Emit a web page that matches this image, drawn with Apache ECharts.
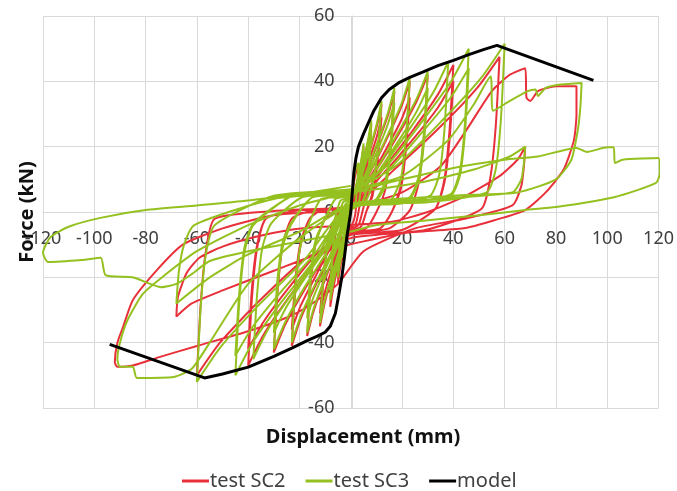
<!DOCTYPE html>
<html>
<head>
<meta charset="utf-8">
<script src="https://cdn.jsdelivr.net/npm/echarts@6/dist/echarts.min.js"></script>
<style>
  html, body { margin: 0; padding: 0; background: #fff; }
  #main { width: 677px; height: 491px; }
</style>
</head>
<body>
<div id="main"></div>
<script>
// axis ticks
const xTicks = [-120, -100, -80, -60, -40, -20, 0, 20, 40, 60, 80, 100, 120];
const yTicks = [-60, -40, -20, 0, 20, 40, 60];

// test SC2 (red) - displacement (mm), force (kN), in recorded order
const sc2 = [
  [0,0],[1,8],[2,12],[3,14],[2.6,8],[2.2,3],[1.8,-0.5],[1,-3],[0,-4.5],[-0.9,-6.5],[-1.8,-9],[-2.55,-12],[-3,-15],[-2.6,-9],[-2.2,-4],[-1.8,-1],[-1,0.5],[0,1],
  [1.5,5.6],[3,11],[4.25,16],[5,20],[4.5,11],[3.8,4],[3,0],[2,-3.5],[0,-5],[-1.5,-8],[-3,-12.5],[-4.25,-17.6],[-5,-22],[-4.5,-13],[-3.8,-6],[-3,-1.5],[-2,0.5],[0,1],
  [2.4,7.6],[4.8,14.9],[6.8,21.6],[8,27],[7.2,15],[6,5],[4.5,0],[3,-4],[0,-5.5],[-2.4,-9],[-4.8,-16],[-6.8,-23.2],[-8,-29],[-7.2,-17],[-6,-7],[-4.5,-2],[-3,0.5],[0,1.5],
  [3.6,9.2],[7.2,18.2],[10.2,26.4],[12,33],[10.5,18],[8.5,6],[6,0],[4,-4.5],[0,-6],[-3.6,-10.5],[-7.2,-19.3],[-10.2,-28],[-12,-35],[-10.5,-20],[-8.5,-8],[-6,-2],[-4,0.5],[0,1.5],
  [3.6,8.1],[7.2,16],[10.2,23.2],[12,29],[10.5,16],[8.5,5],[6,0],[4,-4.5],[0,-6],[-3.6,-9.3],[-7.2,-17],[-10.2,-24.8],[-12,-31],[-10.5,-18],[-8.5,-7],[-6,-2],[-4,0.5],[0,1.5],
  [5.1,10.4],[10.2,20.4],[14.5,29.6],[17,37],[15.5,20],[13.5,7],[10,0],[6,-5],[0,-6.5],[-5.1,-11.5],[-10.2,-21],[-14.5,-30.4],[-17,-38],[-15.5,-21],[-13.5,-9],[-10,-2],[-6,0.5],[0,1.5],
  [6.9,11.2],[13.8,22],[19.6,32],[23,40],[21.5,22],[19.5,8],[16,0],[11.5,-5],[0,-6.5],[-6.9,-12],[-13.8,-22.6],[-19.6,-32.8],[-23,-41],[-21.5,-23],[-19.5,-10],[-16,-2],[-11.5,0.5],[0,1.5],
  [6.9,9.8],[13.8,19.3],[19.6,28],[23,35],[21.5,19],[19.5,7],[16,0],[11.5,-5],[0,-6.5],[-6.9,-10],[-13.8,-19.8],[-19.6,-28.8],[-23,-36],[-21.5,-20],[-19.5,-9],[-16,-2],[-11.5,0.5],[0,1.5],
  [9,11.8],[18,23],[25.5,33.6],[30,42],[28.5,23],[26.5,9],[23,0.5],[15,-5],[0,-7],[-9,-12.5],[-18,-23.7],[-25.5,-34.4],[-30,-43],[-28.5,-24],[-26.5,-10],[-23,-2],[-15,0.5],[0,1.5],
  [12,12.6],[24,24.8],[34,36],[40,45],[38.5,25],[36.5,10],[33,1],[20,-5.5],[0,-7],[-12,-13.5],[-24,-26],[-34,-37.6],[-40,-47],[-38.5,-26],[-36.5,-11],[-33,-2],[-20,0.5],[0,1.5],
  [12,11.2],[24,22],[34,32],[40,40],[38.5,22],[36.5,9],[33,1],[20,-5.5],[0,-7],[-12,-11.8],[-24,-23],[-34,-33.6],[-40,-42],[-38.5,-23],[-36.5,-10],[-33,-2],[-20,0.5],[0,1.5],
  [17.4,13.3],[34.8,26],[49.3,38],[58,47.5],[56.5,26],[54.5,11],[51,1],[29,-5.5],[0,-8],[-18,-14.5],[-36,-27.5],[-51,-40],[-60,-50],[-58.5,-28],[-56.5,-12],[-53,-2],[-26,0.5],[0,1.5],
  [20,6],[35,14],[45,25],[55,37],[62,42],[68,44],[68.5,35],[70,34],[73,37],[80,38.5],[88,38.5],
  [88,30],[87,22],[83,13],[76,6],[68,0.6],[56,-2.5],[44,-5],[21,-6.4],[5,-9],[-10,-12],[-30,-18],[-50,-24],[-62,-28],[-68,-32],
  [-67.4,-26],[-64,-18.7],[-59,-14],[-50,-10.6],[-37,-7.6],[-24,-5.5],[-13,-4.6],[0,-4],[16,-3],[30,0],[45,5],[58,11],[65,16],[68,20],
  [67.5,14],[66.5,8],[63,2],[45,-2],[25,-5],[5,-12],[-5,-22],[-15,-28],[-24,-32],[-40,-36.5],[-60,-41],[-75,-44.5],[-85,-47],[-91,-47.4],[-92,-46],
  [-91,-40],[-88.7,-35],[-85,-27],[-75.6,-17.8],[-65.5,-10],[-50,-5],[-30,-1],[-10,0],[0,-2]
];

// test SC3 (green)
const sc3 = [
  [0,0],[1,9],[2,13.5],[3,15],[2.6,9],[2.2,5],[1.8,2.5],[1,1.5],[0,0.5],[-0.9,-3.5],[-1.8,-7.5],[-2.55,-11],[-3,-14],[-2.6,-8],[-2.2,-4],[-1.8,-1],[-1,2],[0,3],
  [1.5,6],[3,11.5],[4.25,16.8],[5,21],[4.5,12],[3.8,6],[3,2.5],[2,1.5],[0,0.5],[-1.5,-5.6],[-3,-11],[-4.25,-16],[-5,-20],[-4.5,-11],[-3.8,-5],[-3,-1],[-2,2.5],[0,3.5],
  [2.4,8],[4.8,15.4],[6.8,22.4],[8,28],[7.2,16],[6,7],[4.5,3],[3,2],[0,1],[-2.4,-7.6],[-4.8,-14.9],[-6.8,-21.6],[-8,-27],[-7.2,-15],[-6,-6],[-4.5,-1.5],[-3,3],[0,4],
  [2.4,7],[4.8,13.8],[6.8,20],[8,25],[7.2,14],[6,6],[4.5,3],[3,2],[0,1],[-2.4,-6.7],[-4.8,-13.2],[-6.8,-19.2],[-8,-24],[-7.2,-13],[-6,-5],[-4.5,-1],[-3,3],[0,4],
  [3.6,9.5],[7.2,18.7],[10.2,27.2],[12,34],[10.5,19],[8.5,8.5],[6,3.5],[4,2],[0,1],[-3.6,-9.5],[-7.2,-18.7],[-10.2,-27.2],[-12,-34],[-10.5,-19],[-8.5,-8],[-6,-1.5],[-4,3.5],[0,4.5],
  [5.1,10.6],[10.2,20.9],[14.5,30.4],[17,38],[15.5,21],[13.5,9.5],[10,4],[6,2.5],[0,1.5],[-5.1,-10.4],[-10.2,-20.4],[-14.5,-29.6],[-17,-37],[-15.5,-20],[-13.5,-9],[-10,-2],[-6,4],[0,5],
  [5.1,9.5],[10.2,18.5],[14.5,27],[17,33.5],[15.5,18],[13.5,8],[10,3.5],[6,2.5],[0,1.5],[-5.1,-9],[-10.2,-18],[-14.5,-26],[-17,-32.5],[-15.5,-17],[-13.5,-8],[-10,-2],[-6,4],[0,5],
  [6.9,11.5],[13.8,22.6],[19.6,32.8],[23,41],[21.5,23],[19.5,10],[16,4],[11.5,2.5],[0,1.5],[-6.9,-11.2],[-13.8,-22],[-19.6,-32],[-23,-40],[-21.5,-22],[-19.5,-10],[-16,-3],[-11.5,4],[0,5],
  [9,12],[18,23.7],[25.5,34.4],[30,43],[28.5,24],[26.5,11],[23,4.5],[15,2.5],[0,1.5],[-9,-11.8],[-18,-23],[-25.5,-33.6],[-30,-42],[-28.5,-23],[-26.5,-10.5],[-23,-3.5],[-15,4.5],[0,5.5],
  [9,10.6],[18,21],[25.5,30.5],[30,38],[28.5,21],[26.5,9.5],[23,4],[15,2.5],[0,1.5],[-9,-10.4],[-18,-20.4],[-25.5,-29.6],[-30,-37],[-28.5,-20],[-26.5,-9],[-23,-3],[-15,4.5],[0,5.5],
  [11.4,12.9],[22.8,25.3],[32.3,36.8],[38,46],[36.5,25],[34.5,11.5],[31,5],[19,2.5],[0,1.5],[-11.4,-12.6],[-22.8,-24.8],[-32.3,-36],[-38,-45],[-36.5,-25],[-34.5,-11],[-31,-3.5],[-19,4.5],[0,6],
  [13.8,14],[27.6,27.5],[39.1,40],[46,50],[44.5,27],[42.5,12.5],[39,5.5],[23,3],[0,2],[-13.5,-14],[-27,-27.5],[-38.3,-40],[-45,-50],[-43.5,-28],[-41.5,-12.5],[-38,-4],[-22.5,5],[0,6.5],
  [13.8,12.3],[27.6,24.2],[39.1,35.2],[46,44],[44.5,24],[42.5,11],[39,5],[23,3],[0,2],[-13.5,-12.3],[-27,-24.2],[-38.3,-35.2],[-45,-44],[-43.5,-25],[-41.5,-11],[-38,-3.5],[-22.5,5],[0,6.5],
  [18,14.4],[36,28.3],[51,41.2],[60,51.5],[58.5,28],[56.5,13],[53,6],[30,3],[0,2],[-18,-14.6],[-36,-28.6],[-51,-41.6],[-60,-52],[-58.5,-29],[-56.5,-13],[-53,-4],[-30,5],[0,7],
  [20,11],[38,22],[48,33],[54.5,41.5],[55.5,31],[62,34],[69,37],[72,37.5],[73,35.5],[76,38],[82,39],[90,39.5],
  [89.5,32],[88.5,25],[86,16],[80,10],[65,6],[40,5],[0,2.5],[-20,-6],[-40,-13],[-55,-20],[-68,-28],[-67,-18],[-65,-10],[-61,-4],[-30,4],[0,6],
  [27,9],[48,13],[62,17],[68,20],[67.5,15],[66.5,10],[63,6],[34,4],[0,2],[-20,-8],[-40,-22],[-55,-40],[-62,-48],[-69,-50.5],[-83.4,-50.8],[-85,-47.4],[-90,-47.4],[-91,-45],
  [-90,-40],[-87,-33],[-81,-25],[-72,-19],[-60,-12],[-40,-4],[-20,2],[0,6],[20,10],[40,13.5],[60,16],[73,17],[88,19.6],[92,18.4],[100,19.8],[102.5,19.8],[103,15],[106,16],[120,16.5],
  [120.5,12],[119,8.9],[103,4.6],[80,1.5],[68,0.6],[50,-1],[30,-2.5],[10,-4],[0,-6],[-20,-9],[-40,-12],[-55,-15],[-62,-19],[-68,-22],[-74,-23],[-85,-20],[-95.6,-19.3],[-97.5,-14],[-105,-14.7],[-118,-15.3],[-120,-12.5],[-117,-7.6],[-110,-4.5],[-97.6,-1.8],[-80,0.6],[-60,2],[-40,3.5],[-20,5.5],[0,8]
];

// model backbone (black)
const model = [
  [-94,-40.5],[-57,-50.8],[-50,-49.6],[-40,-47.5],[-30,-44.2],[-23,-41.7],[-17,-39.4],[-13,-38],[-10,-36.8],[-8,-35],[-6,-31],[-4.7,-25.5],[-3.5,-20],[-2.5,-14],[-1.5,-7.5],
  [0,0],[0.6,6],[1.2,12],[2,16.5],[3,20],[5,24],[7,27.5],[9,31],[12,35],[15,37.5],[18.6,39.5],[23,41.2],[28,42.8],[34,44.8],[40,46.4],[46,48.2],[52,49.8],[57,51],[94.6,40.3]
];

const chart = echarts.init(document.getElementById('main'));
const labelFont = { fontFamily: 'Noto Sans', fontSize: 18, color: '#404040' };
const gridLine = { lineStyle: { color: '#d9d9d9', width: 1 } };

chart.setOption({
  animation: false,
  backgroundColor: '#fff',
  grid: { left: 43, right: 15, top: 16, bottom: 83 },
  xAxis: {
    type: 'value',
    min: xTicks[0], max: xTicks[xTicks.length - 1], interval: 20,
    position: 'bottom', offset: -196,
    axisLine: { onZero: false, lineStyle: { color: '#d9d9d9' } },
    axisTick: { show: false },
    splitLine: gridLine,
    axisLabel: Object.assign({ margin: 18 }, labelFont)
  },
  yAxis: {
    type: 'value',
    min: yTicks[0], max: yTicks[yTicks.length - 1], interval: 20,
    position: 'left', offset: -309.5,
    axisLine: { onZero: false, lineStyle: { color: '#d9d9d9' } },
    axisTick: { show: false },
    splitLine: gridLine,
    axisLabel: Object.assign({ margin: 18 }, labelFont)
  },
  legend: {
    left: 177, top: 466,
    icon: 'rect', itemWidth: 27, itemHeight: 3, itemGap: 20,
    textStyle: { fontFamily: 'Noto Sans', fontSize: 20, color: '#404040', padding: [0, 0, 0, -4] },
    data: ['test SC2', 'test SC3', 'model']
  },
  graphic: [
    { type: 'text', x: 27, y: 212, rotation: Math.PI / 2,
      style: { text: 'Force (kN)', font: 'bold 20px "Noto Sans"', fill: '#111', textAlign: 'center', textVerticalAlign: 'middle' } },
    { type: 'text', x: 363, y: 437,
      style: { text: 'Displacement (mm)', font: 'bold 20px "Noto Sans"', fill: '#111', textAlign: 'center', textVerticalAlign: 'middle' } }
  ],
  series: [
    { name: 'test SC2', type: 'line', data: sc2, showSymbol: false, smooth: 0.2,
      lineStyle: { color: '#e8303a', width: 2 }, itemStyle: { color: '#e8303a' } },
    { name: 'test SC3', type: 'line', data: sc3, showSymbol: false, smooth: 0.2,
      lineStyle: { color: '#94c11f', width: 2 }, itemStyle: { color: '#94c11f' } },
    { name: 'model', type: 'line', data: model, showSymbol: false,
      lineStyle: { color: '#000', width: 3 }, itemStyle: { color: '#000' } }
  ]
});
</script>
</body>
</html>
